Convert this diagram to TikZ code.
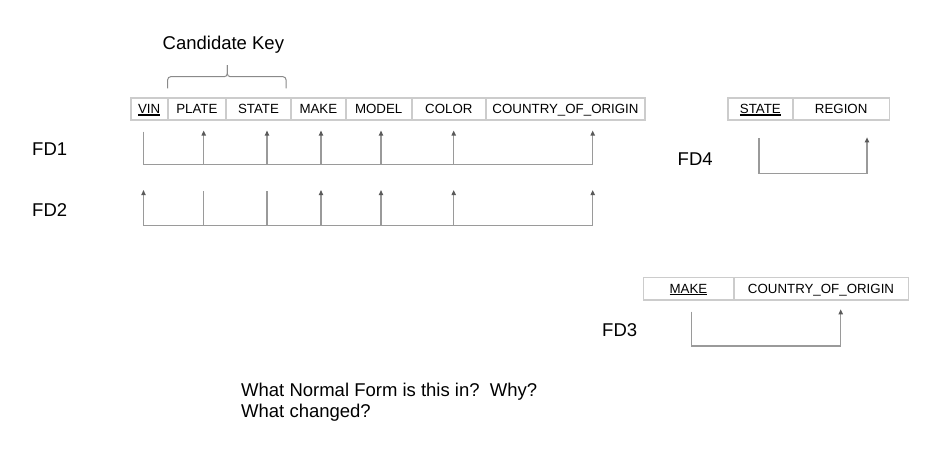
\documentclass[tikz,border=0pt]{standalone}
\usepackage{fontspec}
\setmainfont{Liberation Sans}
\usetikzlibrary{arrows.meta}
\definecolor{cellgray}{HTML}{CCCCCC}
\definecolor{linegray}{HTML}{9A9A9A}
\definecolor{tipgray}{HTML}{5A5A5A}
\definecolor{bracegray}{HTML}{8A8A8A}
\newcommand\keyul[1]{\setbox0\hbox{#1}\rlap{\rule[-1.9pt]{\wd0}{1.1pt}}\box0}
\begin{document}
\begin{tikzpicture}[x=1pt,y=-1pt,
  cell/.style={draw=cellgray,line width=1.6pt,minimum height=22.3pt,inner sep=0pt,
    text height=9.5pt,text depth=0pt,font=\fontsize{13.3}{15}\selectfont,anchor=center},
  fdline/.style={draw=linegray,line width=1.4pt},
  fdarrow/.style={fdline,-{Triangle[length=5pt,width=4.2pt,color=tipgray]}},
  lbl/.style={inner sep=0pt,anchor=base west,font=\fontsize{18.5}{22}\selectfont},
  bracepath/.style={draw=bracegray,line width=1pt,rounded corners=3pt}]
\useasboundingbox (0,0) rectangle (936,458);
\fill[white] (0,0) rectangle (936,458);

% main relation
\node[cell,minimum width=37pt]   (vin)   at (149.2,108.85)  {\keyul{VIN}};
\node[cell,minimum width=58.3pt] (plate) at (196.85,108.85) {PLATE};
\node[cell,minimum width=65pt]   (state) at (258.5,108.85)  {STATE};
\node[cell,minimum width=54.7pt] (make)  at (318.35,108.85) {MAKE};
\node[cell,minimum width=66pt]   (model) at (378.7,108.85)  {MODEL};
\node[cell,minimum width=74.3pt] (color) at (448.85,108.85) {COLOR};
\node[cell,minimum width=159pt]  (coo)   at (565.5,108.85)  {COUNTRY\_OF\_ORIGIN};

% candidate key label and brace
\node[lbl] (ck) at (162.5,49) {Candidate Key};
\coordinate (brl) at (167.7,88.3);
\coordinate (brr) at (286,88.3);
\coordinate (brm) at (227.3,76.7);
\coordinate (brt) at (227.3,65);
\draw[bracepath] (brl) |- (brm) -- (brt);
\draw[bracepath] (brr) |- (brm) -- (brt);

% FD labels
\node[lbl] (fd1) at (32,155.7) {FD1};
\node[lbl] (fd2) at (32,216.7) {FD2};
\node[lbl] (fd4) at (677.5,165) {FD4};
\node[lbl] (fd3) at (602,336.7) {FD3};

% FD1
\coordinate (f1a) at (143.5,164.3);
\coordinate (f1b) at (592.7,164.3);
\coordinate (f1v) at (143.5,131.7);
\draw[fdline] (f1v) -- (f1a) -- (f1b);
\foreach \n/\x in {p/203.7,s/267,mk/321,md/381,c/453.7,o/592.7}{
  \coordinate (f1\n) at (\x,164.3);
  \coordinate (t1\n) at (\x,130.5);
  \draw[fdarrow] (f1\n) -- (t1\n);
}

% FD2
\coordinate (f2a) at (143.5,225.7);
\coordinate (f2b) at (592.7,225.7);
\draw[fdline] (f2a) -- (f2b);
\foreach \n/\x in {v/143.5,mk/321,md/381,c/453.7,o/592.7}{
  \coordinate (f2\n) at (\x,225.7);
  \coordinate (t2\n) at (\x,190);
  \draw[fdarrow] (f2\n) -- (t2\n);
}
\foreach \n/\x in {p/203.7,s/267}{
  \coordinate (f2\n) at (\x,225.7);
  \coordinate (t2\n) at (\x,191);
  \draw[fdline] (f2\n) -- (t2\n);
}

% FD4 relation
\node[cell,minimum width=65.3pt] (st4) at (760.35,108.85) {\keyul{STATE}};
\node[cell,minimum width=96.3pt] (rg4) at (841.15,108.85) {REGION};
\coordinate (f4s) at (759,138.3);
\coordinate (f4c) at (759,173.3);
\coordinate (f4t) at (867,137.3);
\draw[fdarrow] (f4s) -- (f4c) -| (f4t);

% FD3 relation
\node[cell,minimum width=90.4pt,minimum height=22.7pt]  (mk3) at (688.5,288.65) {\keyul{MAKE}};
\node[cell,minimum width=174.6pt,minimum height=22.7pt] (co3) at (821,288.65) {COUNTRY\_OF\_ORIGIN};
\coordinate (f3s) at (691.7,311.7);
\coordinate (f3c) at (691.7,346);
\coordinate (f3t) at (840.7,309.3);
\draw[fdarrow] (f3s) -- (f3c) -| (f3t);

% question
\node[lbl] (q1) at (241,396) {What Normal Form is this in?\ \ Why?};
\node[lbl] (q2) at (241,417.5) {What changed?};
\end{tikzpicture}
\end{document}
